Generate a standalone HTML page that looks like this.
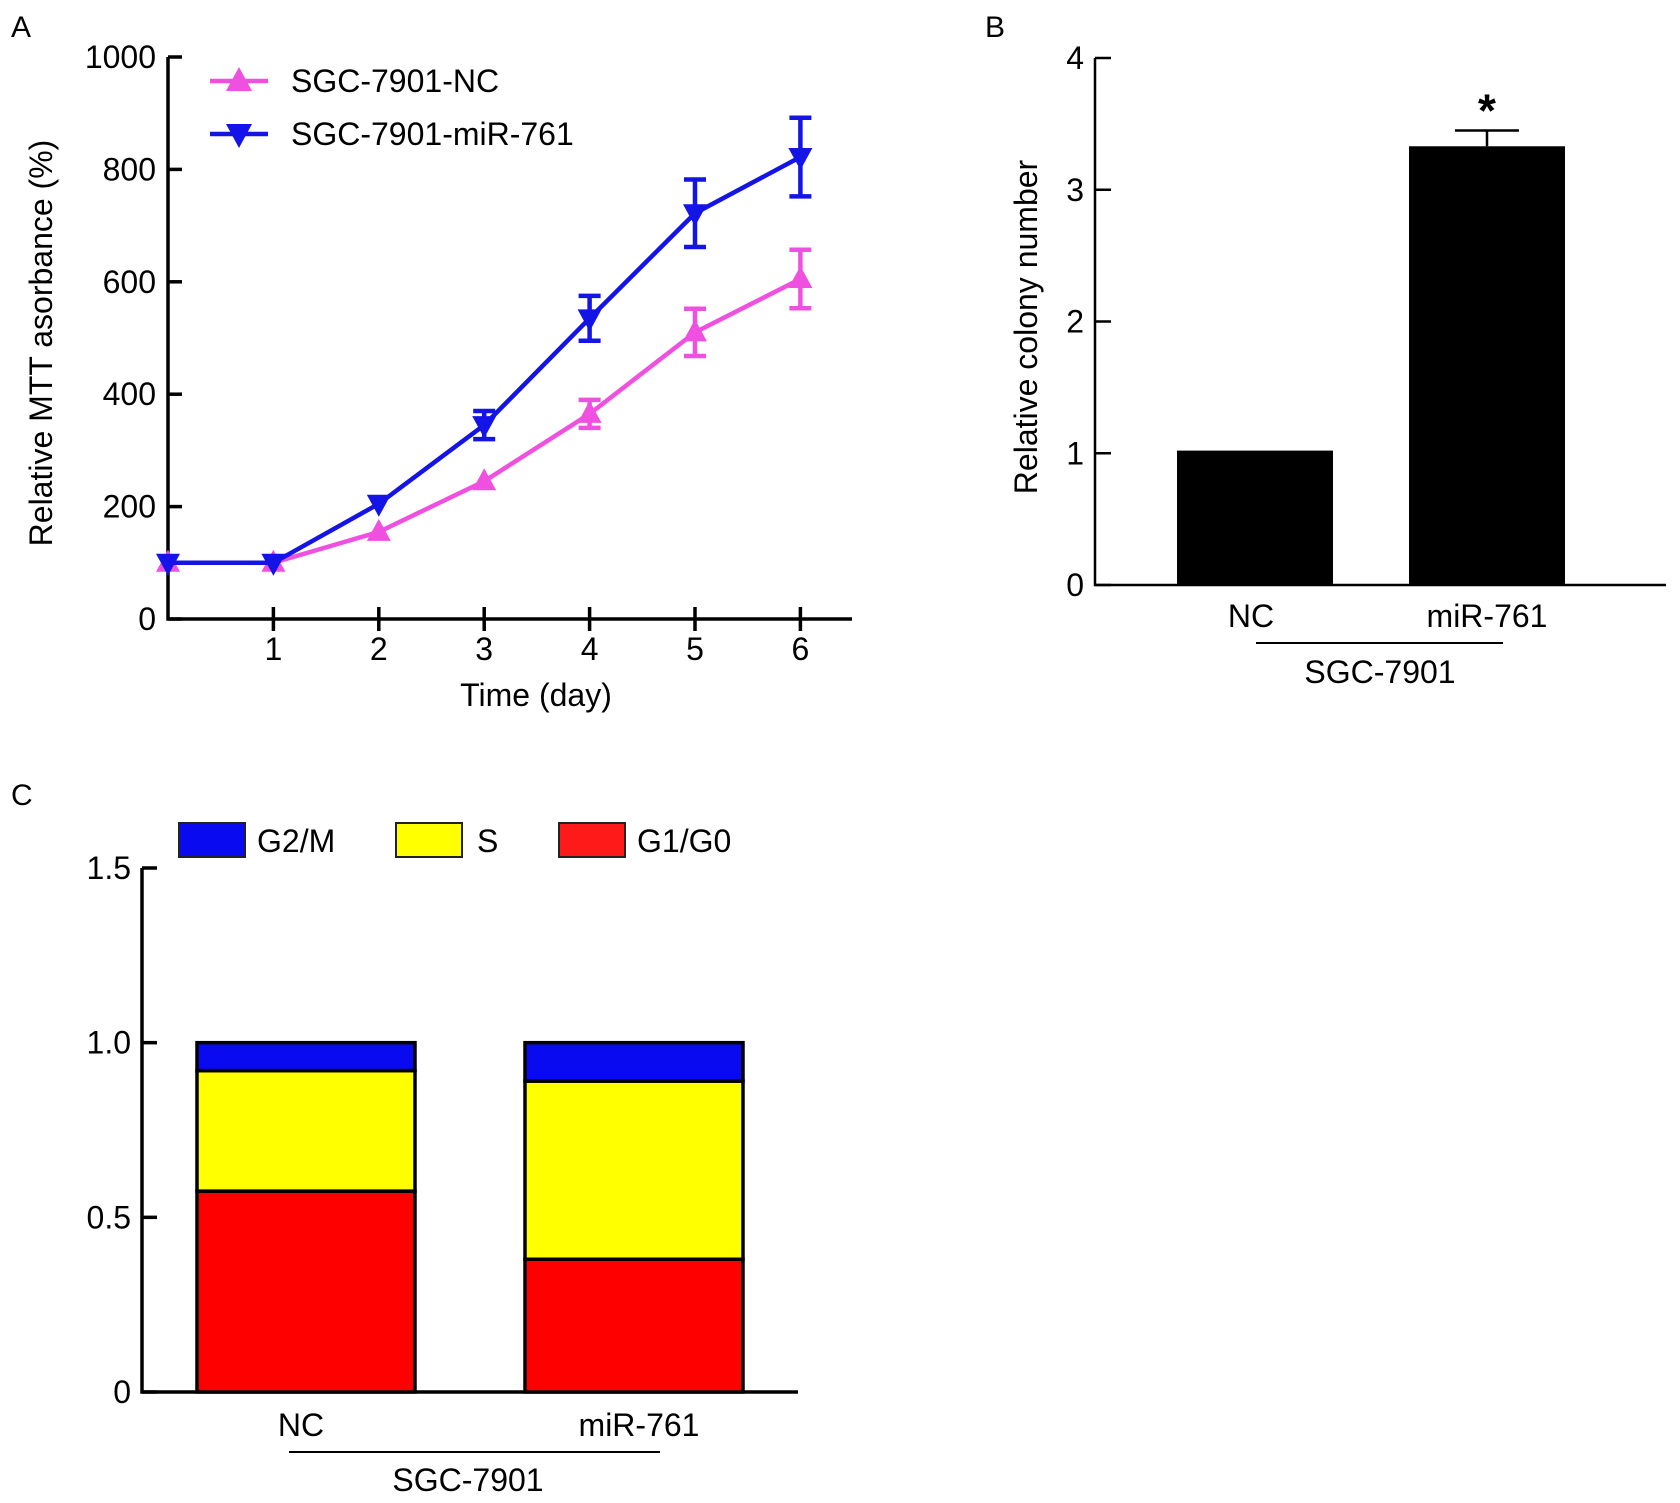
<!DOCTYPE html>
<html><head><meta charset="utf-8"><style>
html,body{margin:0;padding:0;background:#fff}
svg{display:block;font-family:"Liberation Sans",Arial,sans-serif}
</style></head><body>
<svg id="fig" width="1680" height="1503" viewBox="0 0 1680 1503">
<g id="A"></g>
<g id="B"></g>
<g id="C"></g>
</svg>
<script>
// Panel A data
const daysA = [0,1,2,3,4,5,6];
const ncVals = [100,100,155,245,365,510,605];
const ncErr = [0,0,0,0,25,42,52];
const mirVals = [100,100,205,345,535,722,822];
const mirErr = [0,0,0,25,40,60,70];
const aTicksY = [0,200,400,600,800,1000];
const aTicksX = [1,2,3,4,5,6];
// Panel B data
const bCats = ["NC","miR-761"];
const bVals = [1.02,3.33];
const bErr = [0,0.12];
const bTicks = [0,1,2,3,4];
// Panel C data
const cCats = ["NC","miR-761"];
const cG1 = [0.575,0.38];
const cS = [0.345,0.51];
const cG2 = [0.08,0.11];
const cTicks = ["0","0.5","1.0","1.5"];
const cTickVals = [0,0.5,1.0,1.5];

const FS=32;
const NS="http://www.w3.org/2000/svg";
function mk(parent,tag,attrs,text){const e=document.createElementNS(NS,tag);for(const k in attrs)e.setAttribute(k,attrs[k]);if(text!==undefined)e.textContent=text;parent.appendChild(e);return e;}

// ---------- Panel A ----------
(function(){
const g=document.getElementById('A');
const ax0=168, ay0=619, ay1=57, axEnd=852, dx=105.4;
const X=d=>ax0+d*dx, Y=v=>ay0-(v/1000)*(ay0-ay1);
let t=mk(g,'text',{x:11,y:37,'font-size':30});t.textContent='A';


let l=mk(g,'path',{d:`M${ax0} ${ay1}V${ay0}H${axEnd}`,stroke:'#000','stroke-width':3.5,fill:'none'});


aTicksY.forEach(v=>{mk(g,'line',{x1:ax0,x2:ax0+14,y1:Y(v),y2:Y(v),stroke:'#000','stroke-width':3.5});
 const tt=mk(g,'text',{x:156,y:Y(v)+11,'text-anchor':'end','font-size':FS},String(v));
 
 });
aTicksX.forEach(d=>{mk(g,'line',{x1:X(d),x2:X(d),y1:ay0-12,y2:ay0+12,stroke:'#000','stroke-width':3.5});
 const tt=mk(g,'text',{x:X(d),y:660,'text-anchor':'middle','font-size':FS},String(d));
 
 });
t=mk(g,'text',{x:536,y:706,'text-anchor':'middle','font-size':FS},'Time (day)');


t=mk(g,'text',{x:0,y:0,'text-anchor':'middle','font-size':FS,transform:'translate(52 343) rotate(-90)'},'Relative MTT asorbance (%)');


function series(vals,err,color,up,name){
 const s=mk(g,'g',{});
 
 
 mk(s,'polyline',{points:vals.map((v,i)=>X(daysA[i])+','+Y(v)).join(' '),fill:'none',stroke:color,'stroke-width':4.5});
 vals.forEach((v,i)=>{const x=X(daysA[i]),y=Y(v);
  if(err[i]>0){const y1=Y(v+err[i]),y2=Y(v-err[i]);
   mk(s,'path',{d:`M${x} ${y1}V${y2}M${x-11} ${y1}H${x+11}M${x-11} ${y2}H${x+11}`,stroke:color,'stroke-width':4.5,fill:'none'});}
  const p=up?`M${x} ${y-13}L${x+12} ${y+9}L${x-12} ${y+9}Z`:`M${x} ${y+13}L${x+12} ${y-9}L${x-12} ${y-9}Z`;
  const m=mk(s,'path',{d:p,fill:color});
  
  
 });
}
series(ncVals,ncErr,'#f050e0',true,'series-nc');
series(mirVals,mirErr,'#1414e6',false,'series-mir-761');
const lg=mk(g,'g',{});


mk(lg,'line',{x1:210,x2:268,y1:81,y2:81,stroke:'#f050e0','stroke-width':4.5});
mk(lg,'path',{d:'M239 67L252 91L226 91Z',fill:'#f050e0'});
mk(lg,'text',{x:291,y:92,'font-size':FS},'SGC-7901-NC');
mk(lg,'line',{x1:210,x2:268,y1:134,y2:134,stroke:'#1414e6','stroke-width':4.5});
mk(lg,'path',{d:'M239 148L252 124L226 124Z',fill:'#1414e6'});
mk(lg,'text',{x:291,y:145,'font-size':FS},'SGC-7901-miR-761');
})();

// ---------- Panel B ----------
(function(){
const g=document.getElementById('B');
const ax0=1095, ay0=585, ay1=58, axEnd=1666;
const Y=v=>ay0-(v/4)*(ay0-ay1);
const bx=[1177,1409], bw=156;
let t=mk(g,'text',{x:985,y:37,'font-size':30},'B');


mk(g,'path',{d:`M${ax0} ${ay1}V${ay0}H${axEnd}`,stroke:'#000','stroke-width':2.5,fill:'none'});
bTicks.forEach(v=>{mk(g,'line',{x1:ax0,x2:ax0+16,y1:Y(v),y2:Y(v),stroke:'#000','stroke-width':2.5});
 const tt=mk(g,'text',{x:1084,y:Y(v)+11,'text-anchor':'end','font-size':FS},String(v));
 
 });
bVals.forEach((v,i)=>{
 const r=mk(g,'rect',{x:bx[i],y:Y(v),width:bw,height:ay0-Y(v),fill:'#000'});
 
 
 if(bErr[i]>0){const cx=bx[i]+bw/2;mk(g,'path',{d:`M${cx} ${Y(v)}V${Y(v+bErr[i])}M${cx-32} ${Y(v+bErr[i])}H${cx+32}`,stroke:'#000','stroke-width':2.5,fill:'none'});
  const s=mk(g,'text',{x:cx,y:Y(v+bErr[i])-4,'text-anchor':'middle','font-size':46,'font-weight':'bold'},'*');
  
  }
 const tt=mk(g,'text',{x:bx[i]+bw/2-(i==0?4:0),y:627,'text-anchor':'middle','font-size':FS},bCats[i]);
 
 
});
mk(g,'line',{x1:1256,x2:1503,y1:643,y2:643,stroke:'#000','stroke-width':2});
t=mk(g,'text',{x:1380,y:683,'text-anchor':'middle','font-size':FS},'SGC-7901');


t=mk(g,'text',{x:0,y:0,'text-anchor':'middle','font-size':FS,transform:'translate(1037 327) rotate(-90)'},'Relative colony number');


})();

// ---------- Panel C ----------
(function(){
const g=document.getElementById('C');
const ax0=142, ay0=1392, ay1=868, axEnd=798;
const Y=v=>ay0-(v/1.5)*(ay0-ay1);
const bx=[197,525], bw=218;
let t=mk(g,'text',{x:11,y:805,'font-size':30},'C');


mk(g,'path',{d:`M${ax0} ${ay1}V${ay0}H${axEnd}`,stroke:'#000','stroke-width':3.5,fill:'none'});
cTickVals.forEach((v,i)=>{mk(g,'line',{x1:ax0,x2:ax0+15,y1:Y(v),y2:Y(v),stroke:'#000','stroke-width':3.5});
 const tt=mk(g,'text',{x:131,y:Y(v)+11,'text-anchor':'end','font-size':FS},cTicks[i]);
 
 });
cCats.forEach((c,i)=>{
 const segs=[[cG1[i],'#ff0000','g1-g0'],[cS[i],'#ffff00','s'],[cG2[i],'#0a0af0','g2-m']];
 let base=0;
 segs.forEach(([v,col,n])=>{
  const r=mk(g,'rect',{x:bx[i],y:Y(base+v),width:bw,height:Y(base)-Y(base+v),fill:col,stroke:'#000','stroke-width':3.5});
  
  
  base+=v;
 });
 const tt=mk(g,'text',{x:bx[i]+bw/2+(i==0?-5:5),y:1436,'text-anchor':'middle','font-size':FS},c);
 
 
});
mk(g,'line',{x1:289,x2:660,y1:1452,y2:1452,stroke:'#000','stroke-width':2});
t=mk(g,'text',{x:468,y:1491,'text-anchor':'middle','font-size':FS},'SGC-7901');


const lg=mk(g,'g',{});


[['G2/M','#0a0af0',179,257],['S','#ffff00',396,477],['G1/G0','#ff1a1a',559,637]].forEach(([n,col,x,tx])=>{
 const r=mk(lg,'rect',{x:x,y:823,width:66,height:34,fill:col,stroke:'#222','stroke-width':2});
 
 
 mk(lg,'text',{x:tx,y:852,'font-size':FS},n);
});
})();
</script>
</body></html>
